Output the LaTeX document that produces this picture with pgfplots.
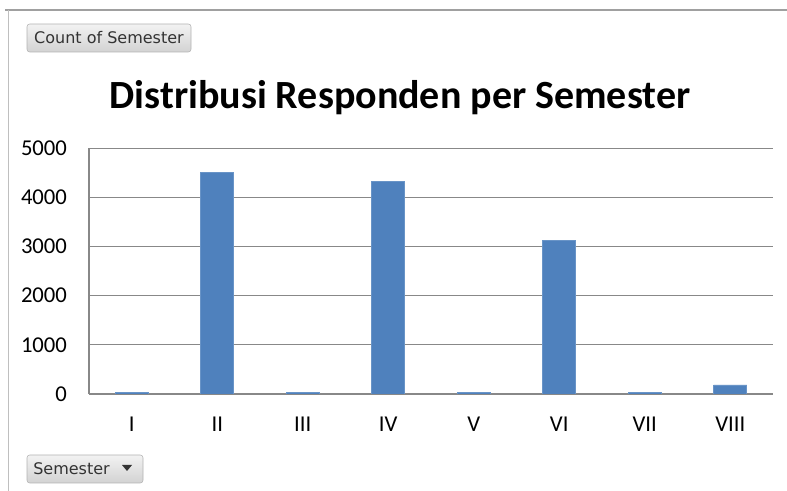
\documentclass[border=0pt]{standalone}
\usepackage{pgfplots}
\pgfplotsset{compat=1.18}
\usepackage{fontspec}
\setmainfont{Carlito}
\newfontfamily\btnfont{DejaVu Sans}
\definecolor{barblue}{HTML}{4F81BD}
\definecolor{gridgray}{HTML}{888888}
\definecolor{framegray}{HTML}{A0A0A0}
\begin{document}
\begin{tikzpicture}
\useasboundingbox (0pt,0pt) rectangle (590.25pt,368.25pt);
% frame
\draw[framegray, line width=1.5pt] (3.75pt,361.1pt) -- (590.25pt,361.1pt);
\draw[black!25, line width=0.75pt] (6pt,0pt) -- (6pt,361.1pt);
% title
\node[font=\fontsize{30}{34}\selectfont\bfseries] at (300pt,294.75pt) {Distribusi Responden per Semester};
% buttons
\shade[top color=gray!10, bottom color=gray!35, draw=gray!60, rounded corners=2pt] (20.25pt,329.25pt) rectangle (143.25pt,350.25pt);
\node[font=\btnfont\fontsize{12}{14}\selectfont, text=black!80] at (81.75pt,339.75pt) {Count of Semester};
\shade[top color=gray!10, bottom color=gray!35, draw=gray!60, rounded corners=2pt] (20.25pt,6pt) rectangle (107.25pt,27pt);
\node[font=\btnfont\fontsize{12}{14}\selectfont, text=black!80, anchor=west, inner sep=0pt] at (24.75pt,16.5pt) {Semester};
\fill[black!80] (91.5pt,19.5pt) -- (99pt,19.5pt) -- (95.25pt,15pt) -- cycle;
\begin{axis}[
  at={(66.75pt,72.75pt)}, anchor=south west,
  scale only axis, width=513pt, height=184.5pt,
  ymin=0, ymax=5000, ytick={0,1000,...,5000},
  xmin=-0.5, xmax=7.5, xtick=data,
  xticklabels={I,II,III,IV,V,VI,VII,VIII},
  /pgf/number format/assume math mode=true,
  scaled y ticks=false,
  yticklabel style={/pgf/number format/1000 sep={}},
  ymajorgrids, grid style={gridgray, line width=0.75pt},
  major tick length=0pt,
  axis x line*=bottom, axis y line*=left,
  axis line style={gridgray, line width=0.9pt},
  x axis line style={-}, y axis line style={-},
  tick label style={font=\fontsize{17}{20}\selectfont},
  yticklabel style={xshift=-13pt},
  xticklabel style={yshift=-14pt},
  ybar, bar width=24.75pt,
]
\addplot[fill=barblue, draw=barblue!85!white] coordinates {
  (0,40) (1,4500) (2,40) (3,4320) (4,40) (5,3120) (6,40) (7,185)
};
\end{axis}
\end{tikzpicture}
\end{document}
